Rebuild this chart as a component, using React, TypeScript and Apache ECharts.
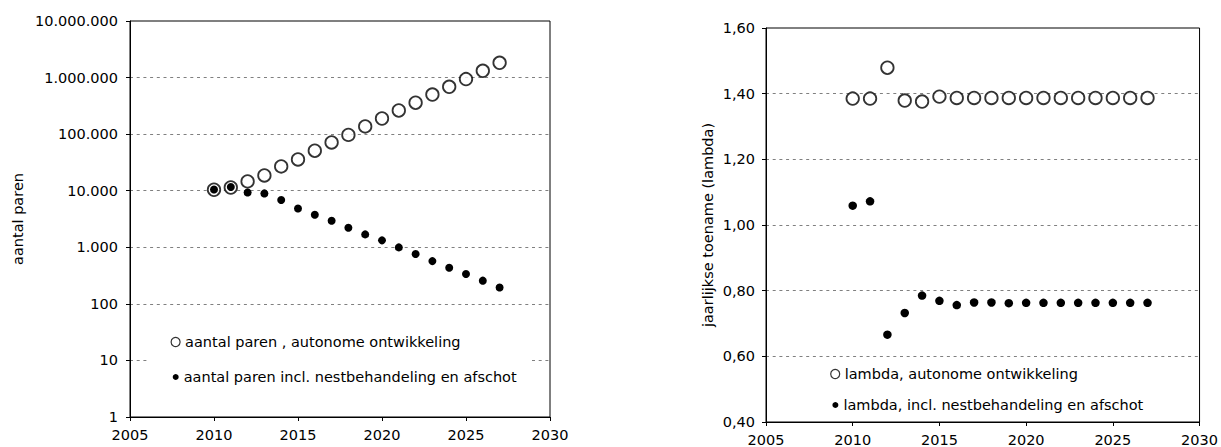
import React, { useEffect, useRef } from "react";
import * as echarts from "echarts";

const years = [2010, 2011, 2012, 2013, 2014, 2015, 2016, 2017, 2018, 2019, 2020, 2021, 2022, 2023, 2024, 2025, 2026, 2027];

const pairsAutonomous = [10400, 11400, 14600, 18600, 26900, 35700, 50900, 71300, 97000, 137000, 189000, 262000, 359000, 501000, 687000, 940000, 1317000, 1824000];
const pairsManaged = [10500, 11600, 9330, 8960, 6840, 4860, 3770, 2950, 2220, 1690, 1325, 995, 760, 570, 436, 337, 257, 195];

const lambdaAutonomous = [1.385, 1.385, 1.479, 1.379, 1.376, 1.391, 1.387, 1.387, 1.387, 1.387, 1.387, 1.387, 1.387, 1.387, 1.387, 1.387, 1.387, 1.387];
const lambdaManaged = [1.059, 1.072, 0.666, 0.732, 0.785, 0.769, 0.756, 0.764, 0.764, 0.762, 0.763, 0.763, 0.763, 0.763, 0.763, 0.763, 0.763, 0.763];

const leftTickLabels = ["1", "10", "100", "1.000", "10.000", "100.000", "1.000.000", "10.000.000"];
const rightTickLabels = ["0,40", "0,60", "0,80", "1,00", "1,20", "1,40", "1,60"];

const nameAutoPairs = "aantal paren , autonome ontwikkeling";
const nameManagedPairs = "aantal paren incl. nestbehandeling en afschot";
const nameAutoLambda = "lambda, autonome ontwikkeling";
const nameManagedLambda = "lambda, incl. nestbehandeling en afschot";

const FONT = "DejaVu Sans";
const FS = 14.5;

const zip = (xs: number[], ys: number[]) => xs.map((x, i) => [x, ys[i]]);

const axisCommon = {
  axisLine: { show: true, lineStyle: { color: "#000", width: 1 } },
  axisTick: { show: true, inside: false, length: 4, lineStyle: { color: "#000", width: 1 } },
};

const gridLine = { show: true, lineStyle: { color: "#808080", width: 1, type: [3, 3.7] as number[] } };

const textStyle = { fontFamily: FONT, fontSize: FS, color: "#000", lineHeight: 16 };

function xAxis(gridIndex: number) {
  return {
    type: "value",
    gridIndex,
    min: 2005,
    max: 2030,
    interval: 5,
    ...axisCommon,
    splitLine: { show: false },
    axisLabel: { fontFamily: FONT, fontSize: FS, color: "#000", margin: 10, formatter: (v: number) => String(v) },
  };
}

const openStyle = { color: "#fff", borderColor: "#000", borderWidth: 1.8 };
const filledStyle = { color: "#000", borderWidth: 0, opacity: 1 };

const option = {
  animation: false,
  backgroundColor: "#fff",
  grid: [
    { left: 130, top: 21, width: 420, height: 396, show: true, borderColor: "#000", borderWidth: 1, backgroundColor: "transparent" },
    { left: 766, top: 28, width: 436, height: 395, show: true, borderColor: "#000", borderWidth: 1, backgroundColor: "transparent" },
  ],
  xAxis: [xAxis(0), xAxis(1)],
  yAxis: [
    {
      type: "log",
      gridIndex: 0,
      logBase: 10,
      min: 1,
      max: 10000000,
      splitNumber: 7,
      ...axisCommon,
      splitLine: gridLine,
      name: "aantal paren",
      nameLocation: "middle",
      nameRotate: 90,
      nameGap: 105,
      nameTextStyle: { fontFamily: FONT, fontSize: FS, color: "#000" },
      axisLabel: {
        fontFamily: FONT,
        fontSize: FS,
        color: "#000",
        margin: 12,
        formatter: (v: number) => leftTickLabels[Math.round(Math.log10(v))] ?? "",
      },
    },
    {
      type: "value",
      gridIndex: 1,
      min: 0.4,
      max: 1.6,
      interval: 0.2,
      ...axisCommon,
      splitLine: gridLine,
      name: "jaarlijkse toename (lambda)",
      nameLocation: "middle",
      nameRotate: 90,
      nameGap: 51,
      nameTextStyle: { fontFamily: FONT, fontSize: FS, color: "#000" },
      axisLabel: {
        fontFamily: FONT,
        fontSize: FS,
        color: "#000",
        margin: 11,
        formatter: (v: number) => rightTickLabels[Math.round((v - 0.4) / 0.2)] ?? "",
      },
    },
  ],
  legend: [
    {
      data: [{ name: nameAutoPairs, icon: "circle", itemStyle: { color: "#fff", borderColor: "#000", borderWidth: 1.2 } }],
      left: 148,
      top: 319,
      padding: [15, 70, 15, 22.5],
      itemWidth: 9,
      itemHeight: 9,
      backgroundColor: "#fff",
      textStyle,
      selectedMode: false,
    },
    {
      data: [{ name: nameManagedPairs, icon: "circle", itemStyle: { color: "#000", borderWidth: 0 } }],
      left: 172.7,
      top: 369,
      padding: 0,
      itemWidth: 6,
      itemHeight: 6,
      textStyle,
      selectedMode: false,
    },
    {
      data: [{ name: nameAutoLambda, icon: "circle", itemStyle: { color: "#fff", borderColor: "#000", borderWidth: 1.2 } }],
      left: 830.1,
      top: 366,
      padding: 0,
      itemWidth: 9,
      itemHeight: 9,
      textStyle,
      selectedMode: false,
    },
    {
      data: [{ name: nameManagedLambda, icon: "circle", itemStyle: { color: "#000", borderWidth: 0 } }],
      left: 832.4,
      top: 397,
      padding: 0,
      itemWidth: 6,
      itemHeight: 6,
      textStyle,
      selectedMode: false,
    },
  ],
  series: [
    {
      type: "scatter",
      name: nameAutoPairs,
      xAxisIndex: 0,
      yAxisIndex: 0,
      symbol: "circle",
      symbolSize: 12.5,
      itemStyle: openStyle,
      data: zip(years, pairsAutonomous),
      z: 2,
    },
    {
      type: "scatter",
      name: nameManagedPairs,
      xAxisIndex: 0,
      yAxisIndex: 0,
      symbol: "circle",
      symbolSize: 8,
      itemStyle: filledStyle,
      data: zip(years, pairsManaged),
      z: 3,
    },
    {
      type: "scatter",
      name: nameAutoLambda,
      xAxisIndex: 1,
      yAxisIndex: 1,
      symbol: "circle",
      symbolSize: 12.5,
      itemStyle: openStyle,
      data: zip(years, lambdaAutonomous),
      z: 2,
    },
    {
      type: "scatter",
      name: nameManagedLambda,
      xAxisIndex: 1,
      yAxisIndex: 1,
      symbol: "circle",
      symbolSize: 8.5,
      itemStyle: filledStyle,
      data: zip(years, lambdaManaged),
      z: 3,
    },
  ],
};

export default function App() {
  const ref = useRef<HTMLDivElement>(null);
  useEffect(() => {
    if (!ref.current) return;
    const chart = echarts.init(ref.current, null, { renderer: "svg" });
    chart.setOption(option as any);
    return () => chart.dispose();
  }, []);
  return <div ref={ref} style={{ position: "absolute", left: 0, top: 0, width: 1221, height: 447 }} />;
}
